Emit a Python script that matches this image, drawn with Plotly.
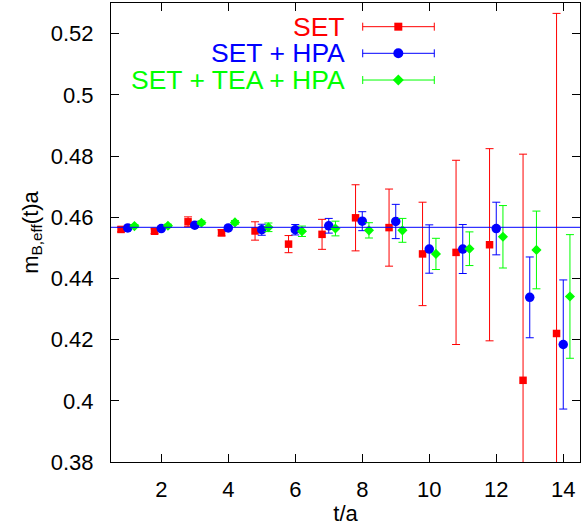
import plotly.graph_objects as go

# effective mass data
t = [1, 2, 3, 4, 5, 6, 7, 8, 9, 10, 11, 12, 13, 14]

set_y = [0.4560, 0.4554, 0.4585, 0.4549, 0.4555, 0.4512, 0.4544,
         0.4598, 0.4566, 0.4480, 0.4485, 0.4510, 0.4067, 0.4220]
set_err = [0.0008, 0.0008, 0.0016, 0.0010, 0.0030, 0.0028, 0.0049,
           0.0108, 0.0126, 0.0169, 0.0301, 0.0314, 0.0739, 0.1046]

hpa_y = [0.4565, 0.4563, 0.4574, 0.4565, 0.4559, 0.4559, 0.4572,
         0.4587, 0.4586, 0.4496, 0.4496, 0.4563, 0.4338, 0.4184]
hpa_err = [0.0005, 0.0005, 0.0006, 0.0006, 0.0018, 0.0017, 0.0024,
           0.0031, 0.0056, 0.0079, 0.0080, 0.0086, 0.0132, 0.0211]

tea_y = [0.4571, 0.4572, 0.4582, 0.4583, 0.4567, 0.4554, 0.4563,
         0.4557, 0.4557, 0.4480, 0.4497, 0.4536, 0.4493, 0.4341]
tea_err = [0.0005, 0.0005, 0.0006, 0.0006, 0.0014, 0.0017, 0.0024,
           0.0025, 0.0039, 0.0051, 0.0055, 0.0102, 0.0127, 0.0202]

fit_value = 0.4567

x_ticks = [2, 4, 6, 8, 10, 12, 14]
x_ticktext = ["2", "4", "6", "8", "10", "12", "14"]
y_ticks = [0.38, 0.40, 0.42, 0.44, 0.46, 0.48, 0.50, 0.52]
y_ticktext = ["0.38", "0.4", "0.42", "0.44", "0.46", "0.48", "0.5", "0.52"]

series = [
    ("SET", set_y, set_err, -0.2, "#ff0000", "square", 7.5),
    ("SET + HPA", hpa_y, hpa_err, 0.0, "#0000ff", "circle", 9.5),
    ("SET + TEA + HPA", tea_y, tea_err, 0.2, "#00ff00", "diamond", 7.8),
]

FONT = "Liberation Sans, Arial, sans-serif"

fig = go.Figure()

for name, y, err, off, color, symbol, size in series:
    fig.add_trace(go.Scatter(
        x=[v + off for v in t], y=y, mode="markers", name=name,
        marker=dict(symbol=symbol, size=size, color=color, line=dict(width=0)),
        error_y=dict(type="data", array=err, visible=True, color=color,
                     thickness=1, width=4),
        showlegend=False,
    ))

# fit line
fig.add_shape(type="line", xref="paper", yref="y", x0=0, x1=1,
              y0=fit_value, y1=fit_value, line=dict(color="#0000ff", width=1))

# gnuplot-style key: text, then sample with error bar
key_y = [0.9484, 0.8904, 0.8322]
for (name, y, err, off, color, symbol, size), ky in zip(series, key_y):
    fig.add_annotation(x=0.5024, y=ky, xref="paper", yref="paper", text=name,
                       showarrow=False, xanchor="right", yanchor="middle",
                       font=dict(family=FONT, size=26.5, color=color))
    fig.add_shape(type="line", xref="paper", yref="paper", x0=0.5367, x1=0.6893,
                  y0=ky, y1=ky, line=dict(color=color, width=1))
    for cx in (0.5367, 0.6893):
        fig.add_shape(type="line", xref="paper", yref="paper", xsizemode="scaled",
                      ysizemode="pixel", yanchor=ky, x0=cx, x1=cx, y0=-4, y1=4,
                      line=dict(color=color, width=1))
    if symbol == "square":
        fig.add_shape(type="rect", xref="paper", yref="paper", xsizemode="pixel",
                      ysizemode="pixel", xanchor=0.6126, yanchor=ky,
                      x0=-4, x1=4, y0=-4, y1=4,
                      fillcolor=color, line=dict(width=0))
    elif symbol == "circle":
        fig.add_shape(type="circle", xref="paper", yref="paper", xsizemode="pixel",
                      ysizemode="pixel", xanchor=0.6126, yanchor=ky,
                      x0=-5, x1=5, y0=-5, y1=5,
                      fillcolor=color, line=dict(width=0))
    else:
        fig.add_shape(type="path", xref="paper", yref="paper", xsizemode="pixel",
                      ysizemode="pixel", xanchor=0.6126, yanchor=ky,
                      path="M -5.5 0 L 0 5.5 L 5.5 0 L 0 -5.5 Z",
                      fillcolor=color, line=dict(width=0))

axis_common = dict(
    showgrid=False, zeroline=False, showline=True, linecolor="black", linewidth=1,
    mirror="ticks", ticks="inside", ticklen=8, tickwidth=1, tickcolor="black",
    tickfont=dict(family=FONT, size=22, color="black"),
)

fig.update_layout(
    width=581, height=526,
    margin=dict(l=111, r=1, t=3, b=64),
    paper_bgcolor="white", plot_bgcolor="white",
    font=dict(family=FONT, size=22, color="black"),
    xaxis=dict(range=[0.5, 14.5], tickvals=x_ticks, ticktext=x_ticktext,
               ticklabelstandoff=8,
               title=dict(text="t/a", standoff=2,
                          font=dict(family=FONT, size=22)),
               **axis_common),
    yaxis=dict(range=[0.38, 0.53], tickvals=y_ticks, ticktext=y_ticktext,
               ticklabelstandoff=12,
               title=dict(text="m<sub>B,eff</sub>(t)a", standoff=6,
                          font=dict(family=FONT, size=22)),
               **axis_common),
)

fig.write_html("out.html", config={"displayModeBar": False},
               post_script="document.body.style.margin='0';")
